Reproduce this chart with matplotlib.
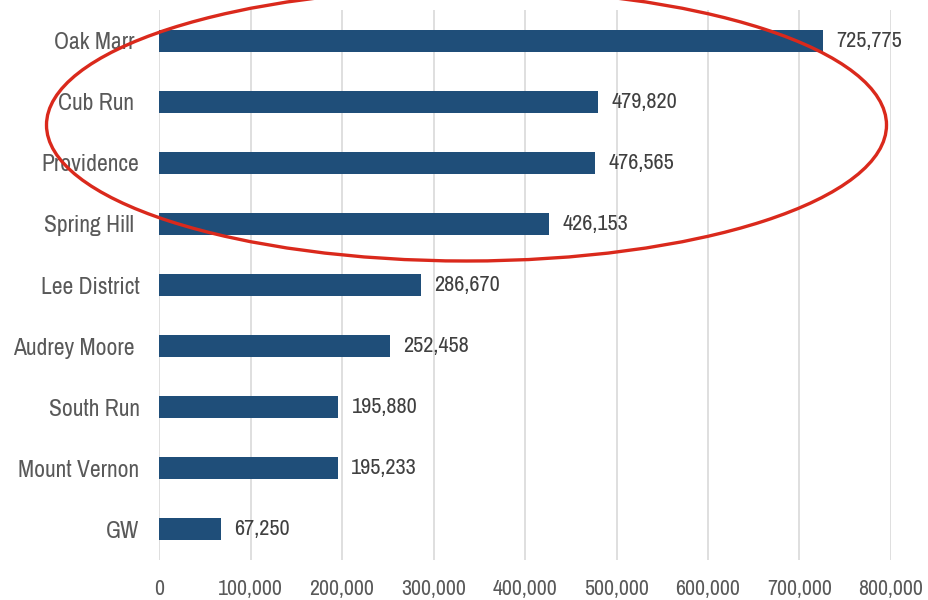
import matplotlib
matplotlib.use("Agg")
import matplotlib.pyplot as plt
from matplotlib import font_manager
from matplotlib.patches import Ellipse
from matplotlib.ticker import FuncFormatter

categories = ["Oak Marr ", "Cub Run ", "Providence", "Spring Hill ", "Lee District",
              "Audrey Moore ", "South Run", "Mount Vernon", "GW"]
values = [725775, 479820, 476565, 426153, 286670, 252458, 195880, 195233, 67250]
xticks = [0, 100000, 200000, 300000, 400000, 500000, 600000, 700000, 800000]

names = {f.name for f in font_manager.fontManager.ttflist}
prefs = ["Arial Narrow", "Liberation Sans Narrow", "Archivo Narrow", "PT Sans Narrow",
         "Roboto Condensed", "Open Sans Condensed", "Fira Sans Condensed",
         "IBM Plex Sans Condensed", "Encode Sans Condensed", "Barlow Semi Condensed",
         "Roboto"]
fam = next((p for p in prefs if p in names), "DejaVu Sans")
plt.rcParams["font.family"] = [fam, "DejaVu Sans"]

fig = plt.figure(figsize=(9.29, 6.0), dpi=100)
ax = fig.add_axes([159/929, 40/600, (891-159)/929, 550/600])

ypos = list(range(len(categories)))
ax.barh(ypos, values, height=0.36, color="#1F4E79", zorder=3)
for y, v in zip(ypos, values):
    ax.annotate(f"{v:,}", xy=(v, y), xytext=(9.5, 0), textcoords="offset points",
                va="center", ha="left", fontsize=16, color="#404040")

ax.set_xlim(0, 800000)
ax.set_ylim(len(categories) - 0.5, -0.5)
ax.set_yticks(ypos)
ax.set_yticklabels(categories, fontsize=17, color="#595959")
ax.set_xticks(xticks)
ax.xaxis.set_major_formatter(FuncFormatter(lambda x, p: f"{int(x):,}"))
ax.tick_params(axis="x", labelsize=15.7, labelcolor="#595959", length=0, pad=14)
ax.tick_params(axis="y", length=0, pad=14)
ax.grid(axis="x", color="#D9D9D9", linewidth=1.2, zorder=0)
ax.grid(axis="y", visible=False)
for s in ax.spines.values():
    s.set_visible(False)

ell = Ellipse((466.5/929, 1 - 125/600), 840/929, 272/600, transform=fig.transFigure,
              fill=False, edgecolor="#DA291C", linewidth=2.4, clip_on=False, zorder=10)
fig.add_artist(ell)

fig.savefig("out.png", dpi=100)
